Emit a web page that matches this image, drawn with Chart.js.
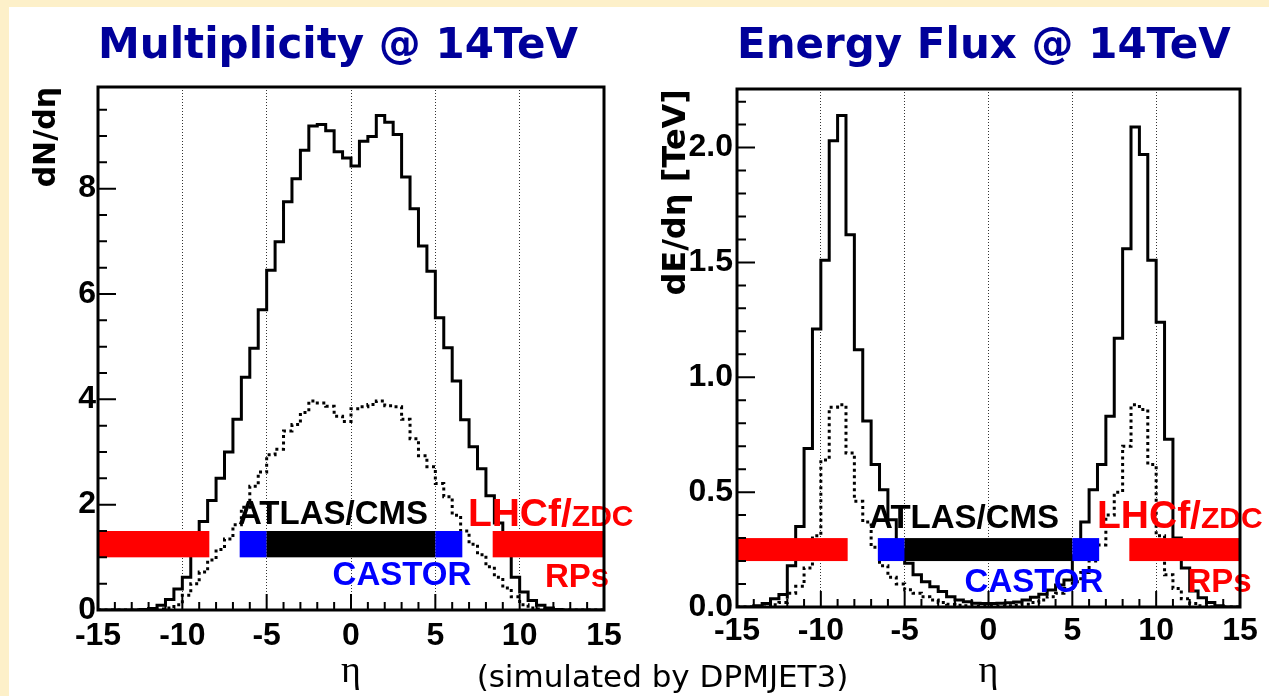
<!DOCTYPE html>
<html>
<head>
<meta charset="utf-8">
<script src="https://cdn.jsdelivr.net/npm/chart.js@4/dist/chart.umd.min.js"></script>
<style>
html,body{margin:0;padding:0;}
body{width:1269px;height:696px;background:#fdf0c9;position:relative;overflow:hidden;}
#sheet{position:absolute;left:9px;top:7px;right:0;bottom:0;background:#ffffff;}
canvas{position:absolute;top:0;}
#cL{left:0;}
#cR{left:640px;}
#note{position:absolute;left:400px;width:525px;text-align:center;top:661px;font:31px/31px "DejaVu Sans";color:#000;white-space:nowrap;}
</style>
</head>
<body>
<div id="sheet"></div>
<canvas id="cL" width="640" height="696"></canvas>
<canvas id="cR" width="629" height="696"></canvas>
<div id="note">(simulated by DPMJET3)</div>
<script>
// ---- data (bin edges in eta, 0.5 wide bins) ----
const etaEdges = [-15,-14.5,-14,-13.5,-13,-12.5,-12,-11.5,-11,-10.5,-10,-9.5,-9,-8.5,-8,-7.5,-7,-6.5,-6,-5.5,-5,-4.5,-4,-3.5,-3,-2.5,-2,-1.5,-1,-0.5,0,0.5,1,1.5,2,2.5,3,3.5,4,4.5,5,5.5,6,6.5,7,7.5,8,8.5,9,9.5,10,10.5,11,11.5,12,12.5,13,13.5,14,14.5,15];

const multiplicitySolid = [0,0,0,0,0, 0.01,0.03,0.09,0.20,0.40, 0.62,1.20,1.68,2.08,2.50, 3.00,3.62,4.42,4.97,5.70, 6.45,6.99,7.75,8.19,8.73, 9.19,9.22,9.10,8.70,8.58, 8.43,8.90,8.99,9.39,9.26, 9.03,8.22,7.62,6.91,6.43, 5.55,4.98,4.35,3.61,3.10, 2.68,2.17,1.65,1.20,0.62, 0.34,0.18,0.09,0.04,0.01, 0,0,0,0,0];

const multiplicityDotted = [0,0,0,0,0, 0,0,0.02,0.04,0.10, 0.28,0.50,0.72,0.95,1.15, 1.35,1.62,1.95,2.35,2.62, 2.95,3.05,3.40,3.52,3.75, 3.97,3.93,3.87,3.68,3.58, 3.82,3.86,3.90,3.97,3.88, 3.86,3.62,3.25,2.93,2.72, 2.40,2.15,1.80,1.50,1.25, 1.05,0.82,0.62,0.42,0.25, 0.10,0.04,0.02,0,0, 0,0,0,0,0];

const energySolid = [0,0,0.005,0.015,0.036, 0.054,0.18,0.35,0.69,1.21, 1.51,2.03,2.14,1.62,1.12, 0.81,0.62,0.51,0.38,0.25, 0.19,0.14,0.11,0.088,0.067, 0.045,0.030,0.023,0.016,0.015, 0.015,0.016,0.018,0.022,0.030, 0.042,0.055,0.074,0.096,0.117, 0.22,0.37,0.51,0.62,0.83, 1.17,1.56,2.09,1.97,1.51, 1.24,0.73,0.30,0.17,0.07, 0.04,0.02,0.005,0,0];

const energyDotted = [0,0,0,0,0.01, 0.02,0.06,0.09,0.17,0.31, 0.64,0.87,0.88,0.67,0.46, 0.37,0.26,0.18,0.13,0.10, 0.075,0.06,0.045,0.03,0.02, 0.012,0.008,0.005,0.003,0.003, 0.003,0.003,0.005,0.008,0.012, 0.02,0.03,0.045,0.06,0.08, 0.11,0.15,0.20,0.27,0.40, 0.50,0.70,0.88,0.86,0.62, 0.31,0.14,0.08,0.036,0.015, 0.005,0,0,0,0];

const etaTicks = [-15,-10,-5,0,5,10,15];
const multiplicityTicks = [0,2,4,6,8];
const energyTicks = [0,0.5,1.0,1.5,2.0];

// ---- helpers ----
const toHist = vals => etaEdges.map((x, i) => ({x: x, y: vals[Math.min(i, vals.length - 1)]}));

const rootStyle = {
  id: 'rootStyle',
  afterDatasetsDraw(chart, args, o) {
    const ctx = chart.ctx, a = chart.chartArea;
    const xs = chart.scales.x, ys = chart.scales.y;
    ctx.save();
    // detector coverage bars
    const yt = ys.getPixelForValue(o.barTop), yb = ys.getPixelForValue(o.barBottom);
    o.bars.forEach(b => {
      const x0 = xs.getPixelForValue(b[0]), x1 = xs.getPixelForValue(b[1]);
      ctx.fillStyle = b[2];
      ctx.fillRect(x0, yt, x1 - x0, yb - yt);
    });
    // detector labels
    ctx.textBaseline = 'alphabetic';
    ctx.textAlign = 'left';
    o.labels.forEach(l => {
      let px = xs.getPixelForValue(l.x);
      const py = ys.getPixelForValue(l.y);
      let total = 0;
      l.parts.forEach(p => { ctx.font = 'bold ' + p[1] + 'px "Liberation Sans"'; total += ctx.measureText(p[0]).width; });
      if (l.align === 'center') px -= total / 2;
      ctx.fillStyle = l.color;
      l.parts.forEach(p => {
        ctx.font = 'bold ' + p[1] + 'px "Liberation Sans"';
        ctx.fillText(p[0], px, py);
        px += ctx.measureText(p[0]).width;
      });
    });
    // frame
    ctx.strokeStyle = '#000';
    ctx.lineWidth = 3;
    ctx.strokeRect(a.left, a.top, a.right - a.left, a.bottom - a.top);
    // inside tick marks
    ctx.lineWidth = 2;
    ctx.beginPath();
    const isMaj = (v, m) => Math.abs(v / m - Math.round(v / m)) < 1e-6;
    const nx = Math.round((xs.max - xs.min) / o.xMinor);
    for (let k = 0; k <= nx; k++) {
      const v = xs.min + k * o.xMinor;
      const px = xs.getPixelForValue(v);
      const len = isMaj(v, o.xMajor) ? 16 : 8;
      ctx.moveTo(px, a.bottom); ctx.lineTo(px, a.bottom - len);
    }
    const ny = Math.floor((ys.max - ys.min) / o.yMinor + 1e-6);
    for (let k = 0; k <= ny; k++) {
      const v = ys.min + k * o.yMinor;
      const py = ys.getPixelForValue(v);
      const len = isMaj(v, o.yMajor) ? 18 : 9;
      ctx.moveTo(a.left, py); ctx.lineTo(a.left + len, py);
    }
    ctx.stroke();
    ctx.restore();
  }
};

function makePanel(canvas, p) {
  return new Chart(canvas, {
    type: 'line',
    data: {
      datasets: [
        {data: toHist(p.solid), borderColor: '#000', borderWidth: 3, stepped: true, pointRadius: 0, fill: false},
        {data: toHist(p.dotted), borderColor: '#000', borderWidth: 3, borderDash: [3, 3.5], stepped: true, pointRadius: 0, fill: false}
      ]
    },
    options: {
      responsive: false,
      animation: false,
      devicePixelRatio: 1,
      events: [],
      layout: {padding: {left: 0, top: 0, right: p.padRight, bottom: 0}},
      plugins: {
        legend: {display: false},
        tooltip: {enabled: false},
        title: {
          display: true, text: p.title, align: 'start', fullSize: false, color: '#00009a',
          font: {family: 'DejaVu Sans', size: 42, weight: 'bold', lineHeight: 1},
          padding: {top: 26, bottom: p.titleBottom}
        },
        rootStyle: {
          barTop: p.barTop, barBottom: p.barBottom,
          bars: [[-15, -8.4, '#ff0000'], [-6.6, -5, '#0000ff'], [-5, 5, '#000000'], [5, 6.6, '#0000ff'], [8.4, 15, '#ff0000']],
          labels: p.labels,
          xMinor: 1, xMajor: 5, yMinor: p.yMinor, yMajor: p.yMajor
        }
      },
      scales: {
        x: {
          type: 'linear', min: -15, max: 15,
          afterBuildTicks: s => { s.ticks = etaTicks.map(v => ({value: v})); },
          afterFit: s => { s.height = p.xAxisHeight; },
          grid: {display: true, drawTicks: false, color: '#333', lineWidth: 1},
          border: {display: false, dash: [1, 2]},
          ticks: {font: {family: 'Liberation Sans', size: 32, weight: 'bold'}, color: '#000', padding: p.xTickPad, maxRotation: 0, autoSkip: false, callback: v => String(v)},
          title: {display: true, text: 'η', color: '#000', font: {family: 'Liberation Serif', size: 38}, padding: {top: 0, bottom: 1}}
        },
        y: {
          type: 'linear', min: 0, max: p.yMax,
          afterBuildTicks: s => { s.ticks = p.yTicks.map(v => ({value: v})); },
          afterFit: s => { s.width = p.yAxisWidth; },
          grid: {display: false, drawTicks: false},
          border: {display: false},
          ticks: {font: {family: 'Liberation Sans', size: 32, weight: 'bold'}, color: '#000', padding: p.yTickPad, autoSkip: false, callback: p.yFmt},
          title: {display: true, text: p.yTitle, align: 'end', color: '#000', font: {family: 'DejaVu Sans', size: p.yTitleSize, weight: 'bold'}, padding: {top: p.yTitlePad, bottom: 0}}
        }
      }
    },
    plugins: [rootStyle]
  });
}

makePanel(document.getElementById('cL'), {
  title: 'Multiplicity @ 14TeV', solid: multiplicitySolid, dotted: multiplicityDotted,
  padRight: 36, titleBottom: 19, xAxisHeight: 86, yAxisWidth: 98, xTickPad: 7, yTickPad: 2,
  yMax: 9.93, yTicks: multiplicityTicks, yFmt: v => String(v), yMinor: 0.5, yMajor: 2,
  yTitle: 'dN/dη', yTitleSize: 30, yTitlePad: 29,
  barTop: 1.5, barBottom: 1.0,
  labels: [
    {parts: [['ATLAS/CMS', 33]], x: -1.07, y: 1.64, align: 'center', color: '#000'},
    {parts: [['CASTOR', 33]], x: 3.02, y: 0.47, align: 'center', color: '#0000ff'},
    {parts: [['LHCf/', 39], ['ZDC', 30]], x: 6.93, y: 1.60, align: 'left', color: '#ff0000'},
    {parts: [['RPs', 33]], x: 11.5, y: 0.43, align: 'left', color: '#ff0000'}
  ]
});

makePanel(document.getElementById('cR'), {
  title: 'Energy Flux @ 14TeV', solid: energySolid, dotted: energyDotted,
  padRight: 29, titleBottom: 21, xAxisHeight: 89, yAxisWidth: 97, xTickPad: 5, yTickPad: 4,
  yMax: 2.255, yTicks: energyTicks, yFmt: v => Number(v).toFixed(1), yMinor: 0.1, yMajor: 0.5,
  yTitle: 'dE/dη [TeV]', yTitleSize: 32, yTitlePad: 17,
  barTop: 0.3, barBottom: 0.2,
  labels: [
    {parts: [['ATLAS/CMS', 33]], x: -1.46, y: 0.343, align: 'center', color: '#000'},
    {parts: [['CASTOR', 33]], x: 2.71, y: 0.065, align: 'center', color: '#0000ff'},
    {parts: [['LHCf/', 39], ['ZDC', 30]], x: 6.47, y: 0.343, align: 'left', color: '#ff0000'},
    {parts: [['RPs', 33]], x: 11.87, y: 0.065, align: 'left', color: '#ff0000'}
  ]
});
</script>
</body>
</html>
